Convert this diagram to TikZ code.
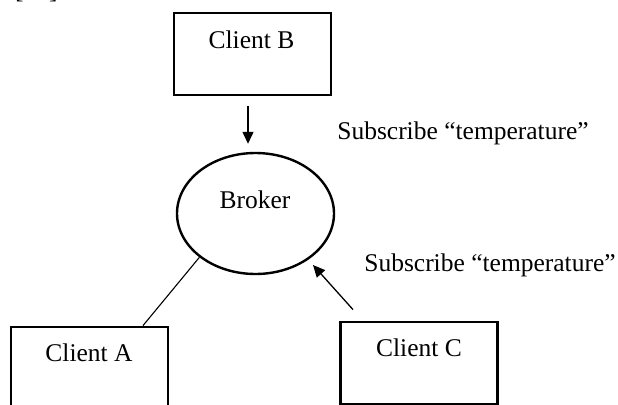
\documentclass[tikz,border=0pt]{standalone}
\usepackage{fontspec}
\setmainfont{Liberation Serif}
\usetikzlibrary{shapes.geometric,arrows.meta,calc}
\begin{document}
\begin{tikzpicture}[x=1pt,y=-1pt,
  clientbox/.style={draw,line width=2.8pt,minimum width=157pt,minimum height=82pt,inner sep=0pt},
  brokerell/.style={draw,ellipse,line width=2.4pt,minimum width=157pt,minimum height=121pt,inner sep=0pt},
  lbl/.style={font=\fontsize{25.5}{30}\selectfont,inner sep=0pt},
  arr/.style={line width=1.3pt,-{Triangle[length=12pt,width=11pt]}},
  plain/.style={line width=1.1pt}]
\useasboundingbox (0,0) rectangle (618,404);
\fill[white] (0,0) rectangle (618,404);
\node[lbl,anchor=base west] (ref) at (15,-1) {[10].};
\node[clientbox] (b) at (252.5,54) {};
\node[lbl] (bt) at (251.5,40) {Client B};
\node[clientbox] (a) at (89.5,368) {};
\node[lbl] (at) at (89,353) {Client A};
\node[clientbox] (c) at (419,363) {};
\node[lbl] (ct) at (419,348) {Client C};
\node[brokerell] (br) at (255.5,213.5) {};
\node[lbl] (brt) at (255,200) {Broker};
\node[lbl] (s1) at (463,133) {Subscribe “temperature”};
\node[lbl] (s2) at (490,265) {Subscribe “temperature”};
\draw[arr] ($(b.south)+(-4.5,10)$) -- ($(br.north)+(-7.5,-8)$);
\draw[plain] (br.218.7) -- ($(a.north)+(53.5,0)$);
\draw[arr] ($(c.north)+(-66,-11)$) -- ($(br.center)+(57.5,51.5)$);
\end{tikzpicture}
\end{document}
